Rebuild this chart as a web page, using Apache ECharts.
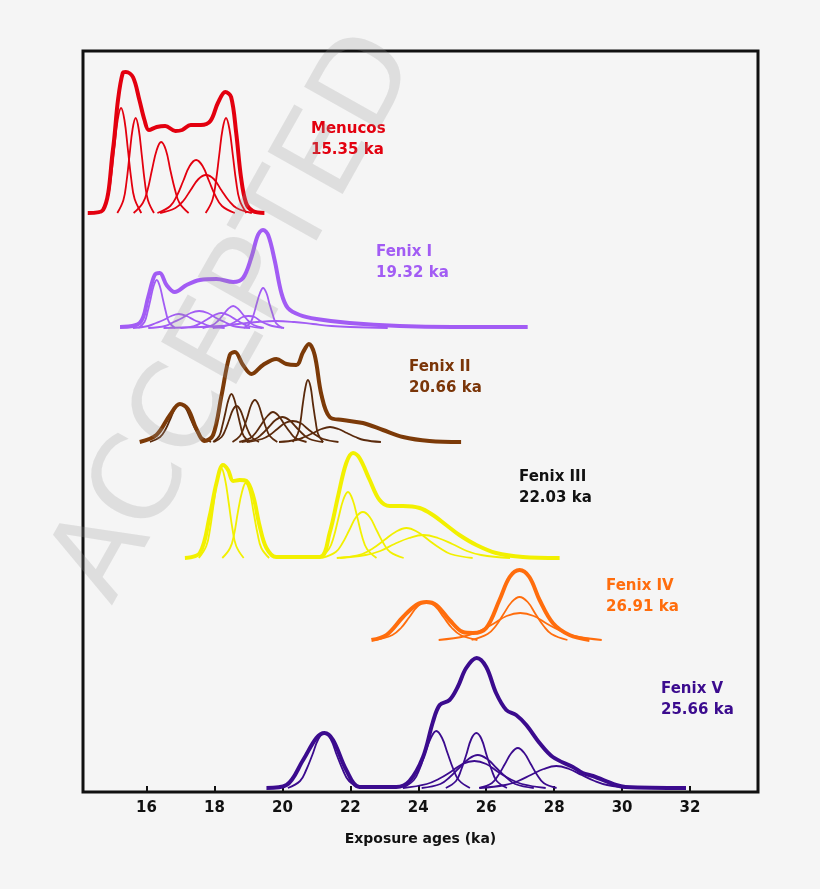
<!DOCTYPE html>
<html>
<head>
<meta charset="utf-8">
<script src="https://cdn.jsdelivr.net/npm/echarts@6/dist/echarts.min.js"></script>
<style>
html,body{margin:0;padding:0;background:#f5f5f5;}
#chart{width:820px;height:889px;}
</style>
</head>
<body>
<div id="chart"></div>
<script>
// ---------- DATA ----------
const xMin = 14.13, xMax = 34;
const tickLabelValues = [16, 18, 20, 22, 24, 26, 28, 30, 32];
const tickMarkValues = [16, 18, 20, 22, 24, 26, 28, 30, 32, 34];
const xAxisTitle = 'Exposure ages (ka)';

const groupNames = ['Menucos', 'Fenix I', 'Fenix II', 'Fenix III', 'Fenix IV', 'Fenix V'];
const groupAges = ['15.35 ka', '19.32 ka', '20.66 ka', '22.03 ka', '26.91 ka', '25.66 ka'];
// vertical offset (stacking) of each group's baseline, in y-axis units
const groupOffsets = [579, 464, 350, 234, 152, 4];

// Summed probability curves (thick), [age, density]
const menucosSum = [[14.27,0],[14.72,3],[15.01,63],[15.16,113],[15.30,140],[15.39,141],[15.60,136],[15.79,113],[15.94,93],[16.07,83],[16.30,86],[16.55,87],[16.85,82],[17.05,83],[17.30,88],[17.60,88],[17.88,92],[18.10,110],[18.32,121],[18.49,116],[18.64,80],[18.78,36],[18.93,10],[19.13,2],[19.47,0]];
const fenix1Sum = [[15.22,1],[15.80,5],[16.05,31],[16.24,53],[16.39,55],[16.59,43],[16.83,36],[17.18,43],[17.57,48],[18.06,49],[18.55,46],[18.84,50],[19.09,71],[19.28,93],[19.43,98],[19.58,93],[19.77,68],[19.97,35],[20.16,20],[20.51,13],[21.00,9],[21.98,5],[23.45,2],[25.00,1],[27.22,1]];
const fenix2Sum = [[15.80,0],[16.29,7],[16.69,27],[16.98,38],[17.22,33],[17.47,13],[17.71,1],[17.96,7],[18.21,47],[18.45,87],[18.60,90],[18.84,77],[19.09,68],[19.43,77],[19.82,83],[20.12,78],[20.41,77],[20.61,90],[20.78,98],[20.95,87],[21.15,47],[21.39,25],[21.78,22],[22.37,19],[22.96,12],[23.55,5],[24.33,1],[25.26,0]];
const fenix3Sum = [[17.13,0],[17.57,5],[17.86,42],[18.06,75],[18.25,93],[18.40,88],[18.55,77],[18.74,78],[18.94,77],[19.14,62],[19.33,32],[19.53,10],[19.82,1],[21.10,1],[21.39,25],[21.64,62],[21.88,95],[22.08,105],[22.27,100],[22.57,78],[22.86,58],[23.16,52],[23.55,52],[24.04,50],[24.43,43],[24.82,33],[25.21,23],[25.71,13],[26.29,5],[27.08,1],[28.16,0]];
const fenix4Sum = [[22.62,0],[23.06,5],[23.55,23],[23.94,35],[24.24,38],[24.53,35],[24.92,20],[25.31,8],[25.61,7],[26.00,12],[26.39,40],[26.69,63],[26.98,70],[27.27,63],[27.57,40],[27.96,17],[28.45,5],[29.04,0]];
const fenix5Sum = [[19.53,0],[20.12,3],[20.61,28],[21.00,50],[21.24,55],[21.49,48],[21.88,18],[22.27,1],[23.35,1],[23.74,7],[24.14,31],[24.43,66],[24.63,83],[24.92,88],[25.16,101],[25.41,120],[25.72,130],[26.00,121],[26.29,95],[26.59,78],[26.88,73],[27.18,63],[27.57,45],[27.96,31],[28.55,21],[28.84,15],[29.14,12],[29.82,3],[30.10,1],[31.88,0]];

// Individual sample probability curves (thin), [age, density]
const menucosSamples = [
  [[14.65,0],[14.85,14],[14.95,34],[15.05,64],[15.15,93],[15.25,105],[15.35,93],[15.45,64],[15.55,34],[15.65,14],[15.85,0]],
  [[15.14,0],[15.32,13],[15.41,31],[15.50,58],[15.59,84],[15.68,95],[15.77,84],[15.86,58],[15.95,31],[16.04,13],[16.22,0]],
  [[15.62,0],[15.89,10],[16.03,23],[16.16,43],[16.30,63],[16.43,71],[16.57,63],[16.70,43],[16.84,23],[16.97,10],[17.24,0]],
  [[16.32,0],[16.70,7],[16.89,17],[17.08,32],[17.27,47],[17.46,53],[17.65,47],[17.84,32],[18.03,17],[18.22,7],[18.60,0]],
  [[16.40,0],[16.85,5],[17.08,12],[17.30,23],[17.53,34],[17.75,38],[17.98,34],[18.20,23],[18.43,12],[18.65,5],[19.10,0]],
  [[17.74,0],[17.94,13],[18.04,31],[18.14,58],[18.24,84],[18.34,95],[18.44,84],[18.54,58],[18.64,31],[18.74,13],[18.94,0]]
];
const fenix1Samples = [
  [[15.76,0],[15.94,6],[16.03,16],[16.12,29],[16.21,42],[16.30,48],[16.39,42],[16.48,29],[16.57,16],[16.66,6],[16.84,0]],
  [[15.60,0],[16.05,2],[16.28,5],[16.50,8],[16.73,12],[16.95,14],[17.18,12],[17.40,8],[17.63,5],[17.85,2],[18.30,0]],
  [[16.05,0],[16.55,2],[16.80,6],[17.05,10],[17.30,15],[17.55,17],[17.80,15],[18.05,10],[18.30,6],[18.55,2],[19.05,0]],
  [[17.00,0],[17.40,2],[17.60,5],[17.80,9],[18.00,13],[18.20,15],[18.40,13],[18.60,9],[18.80,5],[19.00,2],[19.40,0]],
  [[17.65,0],[17.95,3],[18.10,7],[18.25,13],[18.40,19],[18.55,22],[18.70,19],[18.85,13],[19.00,7],[19.15,3],[19.45,0]],
  [[17.95,0],[18.30,2],[18.48,4],[18.65,7],[18.83,11],[19.00,12],[19.18,11],[19.35,7],[19.53,4],[19.70,2],[20.05,0]],
  [[16.50,0],[17.60,1],[18.15,2],[18.70,4],[19.25,6],[19.80,7],[20.35,6],[20.90,4],[21.45,2],[22.00,1],[23.10,0]],
  [[18.86,0],[19.05,5],[19.15,13],[19.24,24],[19.34,35],[19.43,40],[19.53,35],[19.62,24],[19.72,13],[19.81,5],[20.00,0]]
];
const fenix2Samples = [
  [[16.10,0],[16.40,5],[16.55,12],[16.70,23],[16.85,34],[17.00,38],[17.15,34],[17.30,23],[17.45,12],[17.60,5],[17.90,0]],
  [[17.96,0],[18.14,6],[18.23,16],[18.32,29],[18.41,42],[18.50,48],[18.59,42],[18.68,29],[18.77,16],[18.86,6],[19.04,0]],
  [[17.99,0],[18.21,5],[18.32,12],[18.43,22],[18.54,32],[18.65,36],[18.76,32],[18.87,22],[18.98,12],[19.09,5],[19.31,0]],
  [[18.53,0],[18.75,6],[18.86,14],[18.97,25],[19.08,37],[19.19,42],[19.30,37],[19.41,25],[19.52,14],[19.63,6],[19.85,0]],
  [[18.73,0],[19.06,4],[19.23,10],[19.39,18],[19.56,26],[19.72,30],[19.89,26],[20.05,18],[20.22,10],[20.38,4],[20.71,0]],
  [[18.80,0],[19.20,3],[19.40,8],[19.60,15],[19.80,22],[20.00,25],[20.20,22],[20.40,15],[20.60,8],[20.80,3],[21.20,0]],
  [[18.95,0],[19.40,3],[19.63,7],[19.85,13],[20.08,19],[20.30,21],[20.53,19],[20.75,13],[20.98,7],[21.20,3],[21.65,0]],
  [[19.90,0],[20.40,2],[20.65,5],[20.90,9],[21.15,13],[21.40,15],[21.65,13],[21.90,9],[22.15,5],[22.40,2],[22.90,0]],
  [[20.30,0],[20.45,8],[20.53,20],[20.60,38],[20.68,55],[20.75,62],[20.83,55],[20.90,38],[20.98,20],[21.05,8],[21.20,0]]
];
const fenix3Samples = [
  [[17.54,0],[17.76,12],[17.87,29],[17.98,55],[18.09,79],[18.20,90],[18.31,79],[18.42,55],[18.53,29],[18.64,12],[18.86,0]],
  [[18.23,0],[18.46,10],[18.58,24],[18.69,46],[18.81,66],[18.92,75],[19.04,66],[19.15,46],[19.27,24],[19.38,10],[19.61,0]],
  [[21.09,0],[21.37,9],[21.51,21],[21.65,40],[21.79,58],[21.93,66],[22.07,58],[22.21,40],[22.35,21],[22.49,9],[22.77,0]],
  [[21.17,0],[21.57,6],[21.77,15],[21.97,28],[22.17,41],[22.37,46],[22.57,41],[22.77,28],[22.97,15],[23.17,6],[23.57,0]],
  [[21.70,0],[22.35,4],[22.68,10],[23.00,18],[23.33,26],[23.65,30],[23.98,26],[24.30,18],[24.63,10],[24.95,4],[25.60,0]],
  [[21.60,0],[22.45,3],[22.88,7],[23.30,14],[23.73,20],[24.15,23],[24.58,20],[25.00,14],[25.43,7],[25.85,3],[26.70,0]]
];
const fenix4Samples = [
  [[22.74,0],[23.24,5],[23.49,12],[23.74,23],[23.99,34],[24.24,38],[24.49,34],[24.74,23],[24.99,12],[25.24,5],[25.74,0]],
  [[24.60,0],[25.40,4],[25.80,9],[26.20,16],[26.60,24],[27.00,27],[27.40,24],[27.80,16],[28.20,9],[28.60,4],[29.40,0]],
  [[25.57,0],[26.04,6],[26.28,14],[26.51,26],[26.75,38],[26.98,43],[27.22,38],[27.45,26],[27.69,14],[27.92,6],[28.39,0]]
];
const fenix5Samples = [
  [[20.16,0],[20.52,7],[20.70,18],[20.88,33],[21.06,49],[21.24,55],[21.42,49],[21.60,33],[21.78,18],[21.96,7],[22.32,0]],
  [[23.54,0],[23.87,8],[24.04,19],[24.20,35],[24.37,50],[24.53,57],[24.70,50],[24.86,35],[25.03,19],[25.19,8],[25.52,0]],
  [[24.81,0],[25.11,7],[25.26,18],[25.41,33],[25.56,49],[25.71,55],[25.86,49],[26.01,33],[26.16,18],[26.31,7],[26.61,0]],
  [[24.10,0],[24.65,4],[24.93,11],[25.20,20],[25.48,29],[25.75,33],[26.03,29],[26.30,20],[26.58,11],[26.85,4],[27.40,0]],
  [[23.55,0],[24.25,4],[24.60,9],[24.95,16],[25.30,24],[25.65,27],[26.00,24],[26.35,16],[26.70,9],[27.05,4],[27.75,0]],
  [[25.79,0],[26.17,5],[26.36,13],[26.55,24],[26.74,35],[26.93,40],[27.12,35],[27.31,24],[27.50,13],[27.69,5],[28.07,0]],
  [[25.81,0],[26.56,3],[26.94,7],[27.31,13],[27.69,19],[28.06,22],[28.44,19],[28.81,13],[29.19,7],[29.56,3],[30.31,0]]
];

const groupSums = [menucosSum, fenix1Sum, fenix2Sum, fenix3Sum, fenix4Sum, fenix5Sum];
const groupSamples = [menucosSamples, fenix1Samples, fenix2Samples, fenix3Samples, fenix4Samples, fenix5Samples];

// ---------- STYLE ----------
const sumColors = ['#e3000f', '#a25cf4', '#7c3a08', '#f2f000', '#ff6d0d', '#3b0b8e'];
const sampleColors = ['#e3000f', '#a25cf4', '#5a2a0c', '#f2f000', '#ff6d0d', '#3b0b8e'];
const labelColors = ['#e3000f', '#a25cf4', '#7a3508', '#111111', '#ff6d0d', '#3b0b8e'];
const labelPos = [[311, 119], [376, 242], [409, 357], [519, 467], [606, 576], [661, 679]];

const series = [];
groupSums.forEach((sum, g) => {
  const off = groupOffsets[g];
  groupSamples[g].forEach((curve, i) => {
    series.push({
      type: 'line', name: groupNames[g] + ' sample ' + (i + 1),
      data: curve.map(p => [p[0], p[1] + off]),
      showSymbol: false, smooth: 0.4, silent: true, z: 2,
      lineStyle: { color: sampleColors[g], width: 1.8 }
    });
  });
  series.push({
    type: 'line', name: groupNames[g],
    data: sum.map(p => [p[0], p[1] + off]),
    showSymbol: false, smooth: 0.35, silent: true, z: 3,
    lineStyle: { color: sumColors[g], width: 4 }
  });
});

const graphics = groupNames.map((n, g) => ({
  type: 'text', x: labelPos[g][0], y: labelPos[g][1], z: 10,
  style: {
    text: n + '\n' + groupAges[g], fill: labelColors[g],
    font: 'bold 15px "DejaVu Sans"', lineHeight: 21, textVerticalAlign: 'top'
  }
}));
graphics.push({
  type: 'text', x: 238, y: 318, rotation: 1.06, z: 100,
  style: {
    text: 'ACCEPTED', fill: 'rgba(150,150,150,0.24)',
    font: '118px "DejaVu Sans"', textAlign: 'center', textVerticalAlign: 'middle'
  }
});

const chart = echarts.init(document.getElementById('chart'));
chart.setOption({
  backgroundColor: '#f5f5f5',
  animation: false,
  grid: { left: 83, right: 62, top: 51, bottom: 97, show: true, borderColor: '#111', borderWidth: 3, backgroundColor: 'transparent' },
  xAxis: {
    type: 'value', min: xMin, max: xMax,
    name: xAxisTitle, nameLocation: 'middle', nameGap: 40,
    nameTextStyle: { fontFamily: 'DejaVu Sans', fontWeight: 'bold', fontSize: 14, color: '#111' },
    axisLine: { show: false },
    axisTick: { show: true, inside: true, length: 6, customValues: tickMarkValues, lineStyle: { color: '#111', width: 2 } },
    axisLabel: { customValues: tickLabelValues, margin: 9, fontFamily: 'DejaVu Sans', fontWeight: 'bold', fontSize: 15, color: '#111' },
    splitLine: { show: false }
  },
  yAxis: {
    type: 'value', min: 0, max: 741, show: false, splitLine: { show: false }
  },
  series: series,
  graphic: graphics
});
</script>
</body>
</html>
